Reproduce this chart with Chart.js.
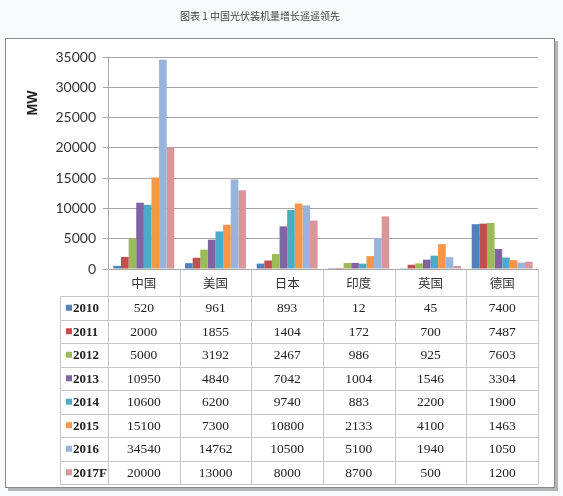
<!DOCTYPE html>
<html>
<head>
<meta charset="utf-8">
<script src="https://cdn.jsdelivr.net/npm/chart.js@4.4.0/dist/chart.umd.min.js"></script>
<style>
  html, body { margin: 0; padding: 0; background: #f7f9fb; }
  #wrap { width: 563px; height: 496px; }
</style>
</head>
<body>
<div id="wrap"><canvas id="solarChart" width="563" height="496"></canvas></div>
<script>
// Chart data
const chartTitle = '图表 1 中国光伏装机量增长遥遥领先';
const yAxisTitle = 'MW';
const countries = ['中国', '美国', '日本', '印度', '英国', '德国'];
const years = ['2010', '2011', '2012', '2013', '2014', '2015', '2016', '2017F'];

const mw2010 = [520, 961, 893, 12, 45, 7400];
const mw2011 = [2000, 1855, 1404, 172, 700, 7487];
const mw2012 = [5000, 3192, 2467, 986, 925, 7603];
const mw2013 = [10950, 4840, 7042, 1004, 1546, 3304];
const mw2014 = [10600, 6200, 9740, 883, 2200, 1900];
const mw2015 = [15100, 7300, 10800, 2133, 4100, 1463];
const mw2016 = [34540, 14762, 10500, 5100, 1940, 1050];
const mw2017F = [20000, 13000, 8000, 8700, 500, 1200];

const yMin = 0;
const yMax = 35000;
const yStep = 5000;

const seriesValues = [mw2010, mw2011, mw2012, mw2013, mw2014, mw2015, mw2016, mw2017F];
const seriesColors = ['#4f81bd', '#c0504d', '#9bbb59', '#8064a2', '#4bacc6', '#f79646', '#98b4da', '#d9979a'];

const datasets = years.map((year, i) => ({
    label: year,
    data: seriesValues[i],
    backgroundColor: seriesColors[i],
    borderWidth: 0,
    categoryPercentage: 0.85,
    barPercentage: 1.0
}));

// Frame, title, MW label and the data table under the axis
const frameAndTable = {
    id: 'frameAndTable',
    beforeDraw(chart) {
        const ctx = chart.ctx;
        ctx.save();
        ctx.fillStyle = '#f7f9fb';
        ctx.fillRect(0, 0, chart.width, chart.height);
        // shadow on right and bottom
        ctx.fillStyle = '#b4b4b4';
        ctx.fillRect(555, 41, 3, 450);
        ctx.fillRect(8, 488, 550, 3);
        ctx.fillStyle = '#ffffff';
        ctx.fillRect(5, 38, 550, 450);
        ctx.strokeStyle = '#8a8a8a';
        ctx.lineWidth = 1;
        ctx.strokeRect(5.5, 38.5, 549, 449);

        ctx.fillStyle = '#444444';
        ctx.font = '10px "Noto Sans CJK SC"';
        ctx.textAlign = 'center';
        ctx.textBaseline = 'middle';
        ctx.fillText(chartTitle, 260, 16);
        ctx.restore();
    },
    afterDraw(chart) {
        const ctx = chart.ctx;
        const area = chart.chartArea;
        const xScale = chart.scales.x;
        const colW = (area.right - area.left) / countries.length;
        const rowTop = 296;
        const rowH = 23.5;
        const keyLeft = 60;
        const tableBottom = rowTop + rowH * years.length;

        ctx.save();
        ctx.strokeStyle = '#c6c6c6';
        ctx.lineWidth = 1;
        ctx.beginPath();
        // horizontal rules
        for (let r = 0; r <= years.length; r++) {
            const y = Math.round(rowTop + r * rowH) + 0.5;
            ctx.moveTo(keyLeft, y);
            ctx.lineTo(area.right, y);
        }
        // vertical rules
        ctx.moveTo(keyLeft + 0.5, rowTop);
        ctx.lineTo(keyLeft + 0.5, tableBottom);
        for (let c = 0; c <= countries.length; c++) {
            const x = Math.round(area.left + c * colW) + 0.5;
            ctx.moveTo(x, area.bottom);
            ctx.lineTo(x, tableBottom);
        }
        ctx.stroke();

        ctx.textBaseline = 'middle';
        years.forEach((year, r) => {
            const yMid = rowTop + r * rowH + rowH / 2;
            ctx.fillStyle = seriesColors[r];
            ctx.fillRect(66, yMid - 3, 6, 6);
            ctx.fillStyle = '#222222';
            ctx.font = 'bold 13px "Liberation Serif"';
            ctx.textAlign = 'left';
            ctx.fillText(year, 73, yMid + 1);
            ctx.font = '13.5px "Liberation Serif"';
            ctx.textAlign = 'center';
            seriesValues[r].forEach((v, c) => {
                ctx.fillText(String(v), xScale.getPixelForValue(c), yMid + 1);
            });
        });

        // y axis title
        ctx.translate(33, 103);
        ctx.rotate(-Math.PI / 2);
        ctx.fillStyle = '#222222';
        ctx.font = 'bold 14px "Liberation Sans"';
        ctx.textAlign = 'center';
        ctx.fillText(yAxisTitle, 0, 0);
        ctx.restore();
    }
};

new Chart(document.getElementById('solarChart').getContext('2d'), {
    type: 'bar',
    data: { labels: countries, datasets: datasets },
    options: {
        responsive: false,
        animation: false,
        layout: { padding: { left: 0, top: 57, right: 25, bottom: 0 } },
        plugins: {
            legend: { display: false },
            tooltip: { enabled: false }
        },
        scales: {
            x: {
                grid: { display: false, drawTicks: false },
                border: { display: true, color: '#a6a6a6' },
                ticks: {
                    color: '#333333',
                    padding: 7,
                    font: { family: '"Noto Sans CJK SC"', size: 12.5 }
                },
                afterFit(scale) { scale.height = 496 - 269; }
            },
            y: {
                min: yMin,
                max: yMax,
                ticks: {
                    stepSize: yStep,
                    color: '#333333',
                    padding: 7,
                    font: { family: 'Lato', size: 14 },
                    callback: (value) => String(value)
                },
                grid: { color: '#a6a6a6', tickLength: 5 },
                border: { display: true, color: '#a6a6a6' },
                afterFit(scale) { scale.width = 108; }
            }
        }
    },
    plugins: [frameAndTable]
});
</script>
</body>
</html>
